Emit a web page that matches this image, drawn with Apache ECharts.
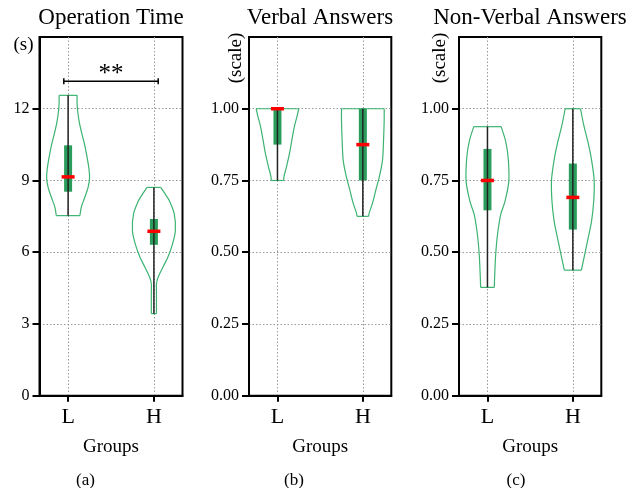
<!DOCTYPE html>
<html>
<head>
<meta charset="utf-8">
<script src="https://cdn.jsdelivr.net/npm/echarts@6/dist/echarts.min.js"></script>
<style>
  html, body { margin: 0; padding: 0; background: #fff; }
  #chart { width: 638px; height: 488px; }
</style>
</head>
<body>
<div id="chart"></div>
<script>
// groups and axis ticks
const groups = ['L', 'H'];
const opTicks = [0, 3, 6, 9, 12];
const scaleTicks = [0, 0.25, 0.5, 0.75, 1];

// violin profiles: y value, relative half width (1 = widest); box = [min, q1, median, q3, max]
const opL_y = [12.56, 12.2, 11.8, 11.4, 11.0, 10.5, 10.0, 9.5, 9.1, 8.7, 8.3, 7.9, 7.53];
const opL_w = [0.42, 0.42, 0.46, 0.53, 0.63, 0.77, 0.88, 0.97, 1.0, 0.93, 0.78, 0.62, 0.55];
const opL_box = [7.53, 8.53, 9.15, 10.47, 12.56];

const opH_y = [8.71, 8.4, 8.15, 7.6, 6.9, 6.35, 5.79, 5.375, 4.96, 4.68, 4.3, 3.43];
const opH_w = [0.32, 0.55, 0.72, 0.95, 1.0, 0.87, 0.65, 0.42, 0.2, 0.12, 0.12, 0.12];
const opH_box = [3.43, 6.31, 6.875, 7.39, 8.71];

const verbL_y = [1.0, 0.974, 0.94, 0.893, 0.846, 0.8, 0.765, 0.75];
const verbL_w = [1.0, 0.92, 0.8, 0.68, 0.57, 0.43, 0.31, 0.29];
const verbL_box = [0.75, 0.875, 1.0, 1.0, 1.0];

const verbH_y = [1.0, 0.96, 0.89, 0.82, 0.765, 0.72, 0.67, 0.637, 0.625];
const verbH_w = [1.0, 1.0, 0.97, 0.92, 0.78, 0.62, 0.45, 0.3, 0.27];
const verbH_box = [0.625, 0.75, 0.875, 1.0, 1.0];

const nvL_y = [0.9375, 0.887, 0.829, 0.747, 0.677, 0.631, 0.561, 0.491, 0.421, 0.3775];
const nvL_w = [0.64, 0.85, 0.97, 1.0, 0.82, 0.62, 0.47, 0.385, 0.34, 0.32];
const nvL_box = [0.3775, 0.646, 0.75, 0.86, 0.9375];

const nvH_y = [1.0, 0.94, 0.88, 0.82, 0.75, 0.68, 0.61, 0.55, 0.49, 0.4375];
const nvH_w = [0.36, 0.52, 0.72, 0.88, 1.0, 0.98, 0.88, 0.72, 0.55, 0.4];
const nvH_box = [0.4375, 0.579, 0.691, 0.809, 1.0];

// significance bracket in Operation Time
const sigSpan = [-0.05, 1.05];
const sigLevel = 13.15;
const sigText = '**';

const FONT = '"Liberation Serif", "Times New Roman", serif';
const VIOLIN = '#3cb371';
const BOX = '#2a9d5c';
const HALF = 0.25;

const chart = echarts.init(document.getElementById('chart'));

function makeViolin(idx, xPos, ys, ws, stats) {
    return {
        type: 'custom',
        xAxisIndex: idx,
        yAxisIndex: idx,
        silent: true,
        data: [[xPos, stats[2]]],
        renderItem: function (params, api) {
            const x0 = api.value(0);
            const right = ys.map((y, i) => api.coord([x0 + ws[i] * HALF, y]));
            const left = ys.map((y, i) => api.coord([x0 - ws[i] * HALF, y]));
            const n = ys.length - 1;
            const lo = api.coord([x0, stats[0]]);
            const q1 = api.coord([x0, stats[1]]);
            const md = api.coord([x0, stats[2]]);
            const q3 = api.coord([x0, stats[3]]);
            const hi = api.coord([x0, stats[4]]);
            const outline = { stroke: VIOLIN, lineWidth: 1.2, fill: null };
            return {
                type: 'group',
                children: [
                    { type: 'polyline', shape: { points: right, smooth: 0.3 }, style: outline },
                    { type: 'polyline', shape: { points: left, smooth: 0.3 }, style: outline },
                    { type: 'line', shape: { x1: left[0][0], y1: left[0][1], x2: right[0][0], y2: right[0][1] }, style: outline },
                    { type: 'line', shape: { x1: left[n][0], y1: left[n][1], x2: right[n][0], y2: right[n][1] }, style: outline },
                    { type: 'rect', shape: { x: q3[0] - 4, y: q3[1], width: 8, height: q1[1] - q3[1] }, style: { fill: BOX } },
                    { type: 'line', shape: { x1: lo[0], y1: lo[1], x2: hi[0], y2: hi[1] }, style: { stroke: '#222', lineWidth: 1.5 } },
                    { type: 'line', shape: { x1: md[0] - 6.5, y1: md[1], x2: md[0] + 6.5, y2: md[1] }, style: { stroke: '#ff0000', lineWidth: 3.5 } }
                ]
            };
        }
    };
}

const grids = [
    { left: 39.5, top: 37, width: 143, height: 358.7 },
    { left: 249, top: 37, width: 142.3, height: 358.7 },
    { left: 459, top: 37, width: 142.3, height: 358.7 }
].map(g => Object.assign(g, { show: true, borderColor: '#000', borderWidth: 2, backgroundColor: 'transparent', containLabel: false }));

const splitStyle = { show: true, lineStyle: { color: '#999', width: 1, type: [1.5, 2] } };

const xAxes = [0, 1, 2].map(i => ({
    type: 'value',
    gridIndex: i,
    min: -1 / 3,
    max: 4 / 3,
    name: 'Groups',
    nameLocation: 'middle',
    nameGap: 42,
    nameTextStyle: { fontFamily: FONT, fontSize: 19, color: '#000', verticalAlign: 'top' },
    axisLine: { show: true, onZero: false, lineStyle: { color: '#000', width: 2 } },
    axisTick: { show: true, customValues: [0, 1], length: 6, lineStyle: { color: '#000', width: 2 } },
    axisLabel: {
        customValues: [0, 1],
        formatter: v => groups[Math.round(v)],
        fontFamily: FONT, fontSize: 22, color: '#000', margin: 11
    },
    splitLine: splitStyle
}));

const yAxes = [0, 1, 2].map(i => ({
    type: 'value',
    gridIndex: i,
    min: 0,
    max: i === 0 ? 15 : 1.25,
    interval: i === 0 ? 3 : 0.25,
    axisLine: { show: true, onZero: false, lineStyle: { color: '#000', width: 2 } },
    axisTick: { show: true, customValues: i === 0 ? opTicks : scaleTicks, length: 7, lineStyle: { color: '#000', width: 2 } },
    axisLabel: {
        customValues: i === 0 ? opTicks : scaleTicks,
        formatter: v => (i === 0 ? String(v) : v.toFixed(2)),
        fontFamily: FONT, fontSize: 16, color: '#000', margin: 10
    },
    splitLine: splitStyle
}));

function txt(text, x, y, size, rot) {
    return {
        type: 'text', x: x, y: y, rotation: rot || 0, silent: true,
        style: { text: text, font: size + 'px ' + FONT, fill: '#000', align: 'center', verticalAlign: 'middle' }
    };
}

const option = {
    animation: false,
    backgroundColor: '#fff',
    grid: grids,
    xAxis: xAxes,
    yAxis: yAxes,
    graphic: [
        txt('Operation Time', 111, 18, 23),
        txt('Verbal Answers', 320, 18, 23),
        txt('Non-Verbal Answers', 530, 18, 23),
        txt('(s)', 23.5, 45, 19),
        txt('(scale)', 235.8, 58, 19, Math.PI / 2),
        txt('(scale)', 440, 58, 19, Math.PI / 2),
        txt('(a)', 85.5, 481, 17),
        txt('(b)', 294, 481, 17),
        txt('(c)', 516, 481, 17)
    ],
    series: [
        makeViolin(0, 0, opL_y, opL_w, opL_box),
        makeViolin(0, 1, opH_y, opH_w, opH_box),
        makeViolin(1, 0, verbL_y, verbL_w, verbL_box),
        makeViolin(1, 1, verbH_y, verbH_w, verbH_box),
        makeViolin(2, 0, nvL_y, nvL_w, nvL_box),
        makeViolin(2, 1, nvH_y, nvH_w, nvH_box),
        {
            type: 'custom',
            xAxisIndex: 0,
            yAxisIndex: 0,
            silent: true,
            data: [[sigSpan[0], sigSpan[1], sigLevel]],
            renderItem: function (params, api) {
                const a = api.coord([api.value(0), api.value(2)]);
                const b = api.coord([api.value(1), api.value(2)]);
                const st = { stroke: '#000', lineWidth: 1.5 };
                return {
                    type: 'group',
                    children: [
                        { type: 'line', shape: { x1: a[0], y1: a[1], x2: b[0], y2: b[1] }, style: st },
                        { type: 'line', shape: { x1: a[0], y1: a[1] - 3, x2: a[0], y2: a[1] + 3 }, style: st },
                        { type: 'line', shape: { x1: b[0], y1: b[1] - 3, x2: b[0], y2: b[1] + 3 }, style: st },
                        {
                            type: 'text', x: (a[0] + b[0]) / 2, y: a[1] + 6,
                            style: { text: sigText, font: '25px ' + FONT, fill: '#000', align: 'center', verticalAlign: 'bottom' }
                        }
                    ]
                };
            }
        }
    ]
};
chart.setOption(option);

window.addEventListener('resize', function () {
    chart.resize();
});
</script>
</body>
</html>
